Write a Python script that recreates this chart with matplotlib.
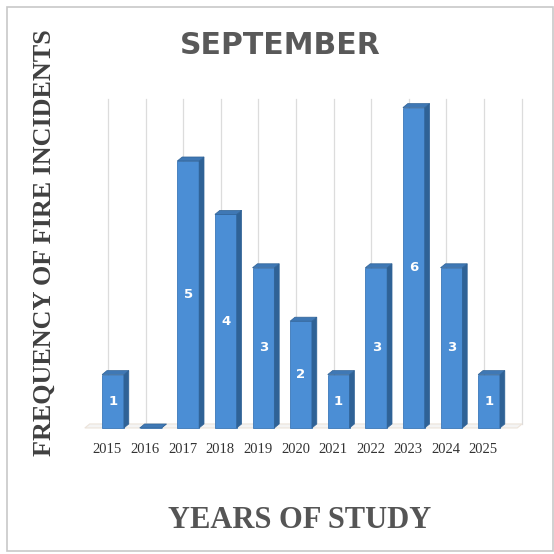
import matplotlib.pyplot as plt
from matplotlib.patches import Polygon, Rectangle

# September fire incidents per year
years = ['2015', '2016', '2017', '2018', '2019', '2020',
         '2021', '2022', '2023', '2024', '2025']
incidents = [1, 0, 5, 4, 3, 2, 1, 3, 6, 3, 1]

front = '#4b8ed5'
side = '#2f6296'
top = '#3f78b5'

fig = plt.figure(figsize=(5.54, 5.54), dpi=100)
fig.patches.append(Rectangle((7 / 554, 3 / 554), 546 / 554, 544 / 554,
                             transform=fig.transFigure, fill=False,
                             edgecolor='#c8c8c8', linewidth=1.2))

ax = fig.add_axes([0.1444, 0.2058, 0.8123, 0.6318])
ax.set_xlim(-0.878, 11.09)
ax.set_ylim(-0.225, 6.33)
ax.axis('off')

w = 0.58     # bar width
dx = 0.13    # depth offset, x
dy = 0.075   # depth offset, y
n = len(years)

# back wall gridlines
for i in range(n + 1):
    ax.plot([i - 0.2 + dx / 2, i - 0.2 + dx / 2], [dy, 6.16],
            color='#dcdcdc', lw=0.9, zorder=0)
# floor
ax.add_patch(Polygon([(-0.75, 0), (10.75, 0), (10.75 + dx, dy), (-0.75 + dx, dy)],
                     closed=True, facecolor='#f4f4f4', edgecolor='#ece3da',
                     lw=0.8, zorder=0.5))

xs = list(range(n))
ax.bar(xs, incidents, width=w, color=front, edgecolor='#3b78b8',
       linewidth=0.6, zorder=2)
for x, v in zip(xs, incidents):
    r = x + w / 2
    l = x - w / 2
    ax.add_patch(Polygon([(r, 0), (r + dx, dy), (r + dx, v + dy), (r, v)],
                         closed=True, facecolor=side, edgecolor=side,
                         lw=0.5, zorder=2))
    ax.add_patch(Polygon([(l, v), (l + dx, v + dy), (r + dx, v + dy), (r, v)],
                         closed=True, facecolor=top, edgecolor=side,
                         lw=0.5, zorder=3))
    if v > 0:
        ax.text(x, v / 2, str(v), ha='center', va='center', color='white',
                fontsize=9.5, fontweight='bold', zorder=4)
    ax.text(x - 0.15, -0.4, years[x], ha='center', va='center',
            family='Liberation Serif', fontsize=10.5, color='#333333',
            clip_on=False)

fig.text(280 / 554, 1 - 46 / 554, 'SEPTEMBER', ha='center', va='center',
         fontsize=21.5, fontweight='bold', color='#595959', family='DejaVu Sans')
fig.text(44 / 554, 1 - 243 / 554, 'FREQUENCY OF FIRE INCIDENTS', rotation=90,
         ha='center', va='center', fontsize=18.8, fontweight='bold',
         color='#404040', family='Liberation Serif')
fig.text(300 / 554, 1 - 521 / 554, 'YEARS OF STUDY', ha='center', va='center',
         fontsize=22, fontweight='bold', color='#555555',
         family='Liberation Serif')

fig.savefig('out.png', dpi=100)
